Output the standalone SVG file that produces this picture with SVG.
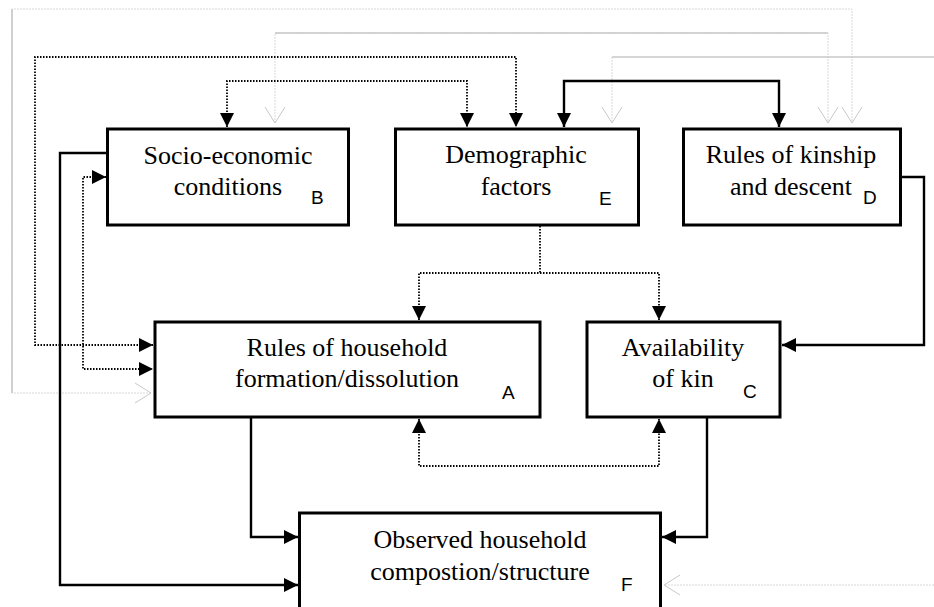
<svg xmlns="http://www.w3.org/2000/svg" width="934" height="607" viewBox="0 0 934 607">
<style>
.box{fill:#fff;stroke:#000;stroke-width:3}
.lbl{font-family:"Liberation Serif","Times New Roman",serif;font-size:26px;fill:#000;text-anchor:middle}
.tag{font-family:"Liberation Sans",Arial,sans-serif;font-size:19px;fill:#000}
.solid{fill:none;stroke:#000;stroke-width:2.4}
.dot{fill:none;stroke:#000;stroke-width:1.8;stroke-dasharray:1.5 1.5}
.gl{fill:none;stroke:#d8d8d8;stroke-width:1;stroke-dasharray:2 1}
.gs{fill:none;stroke:#c8c8c8;stroke-width:1.6}
.ba{marker-start:url(#fa);marker-end:url(#fa)}
.ea{marker-end:url(#fa)}
.gba{marker-start:url(#oa);marker-end:url(#oa)}
.gea{marker-end:url(#oa)}
</style>
<defs>
<marker id="fa" markerUnits="userSpaceOnUse" markerWidth="15" markerHeight="15" refX="14" refY="7" orient="auto-start-reverse" viewBox="0 0 15 15">
<path d="M0,0 L14,7 L0,14 z" fill="#000"/>
</marker>
<marker id="oa" markerUnits="userSpaceOnUse" markerWidth="20" markerHeight="24" refX="17" refY="11" orient="auto-start-reverse" viewBox="0 0 20 24">
<path d="M1,1 L17,11 L1,21" fill="none" stroke="#c8c8c8" stroke-width="1"/>
</marker>
</defs>
<g id="connectors">
<path class="gl gba" d="M151,393 L12,393 L12,9 L852,9 L852,123"/>
<path class="gs" d="M12,393 L12,9"/>
<path class="gl gba" d="M275,123 L275,33 L828,33 L828,123"/>
<path class="gs" d="M275,33 L828,33"/>
<path class="gl gea" d="M612,57 L612,123"/>
<path class="gs" d="M612,57 L940,57"/>
<path class="gl gea" d="M940,585 L664,585"/>
<path class="dot ba" d="M153,345 L35,345 L35,57 L516,57 L516,127"/>
<path class="dot ba" d="M227,127 L227,81 L467,81 L467,127"/>
<path class="solid ba" d="M564,127 L564,81 L779,81 L779,127"/>
<path class="dot ba" d="M106,177 L83,177 L83,369 L153,369"/>
<path class="solid ea" d="M107,153 L60,153 L60,585 L298,585"/>
<path class="dot" d="M540,226 L540,273"/>
<path class="dot ba" d="M419,320 L419,273 L659,273 L659,320"/>
<path class="solid ea" d="M901,177 L924,177 L924,345 L782,345"/>
<path class="dot ba" d="M419,419 L419,466 L659,466 L659,419"/>
<path class="solid ea" d="M251,418 L251,537 L298,537"/>
<path class="solid ea" d="M707,418 L707,537 L662,537"/>
</g>
<g id="nodeB">
<rect class="box" x="107.5" y="129" width="241" height="96"/>
<text class="lbl" x="228" y="164">Socio-economic</text>
<text class="lbl" x="228" y="195">conditions</text>
<text class="tag" x="311" y="204">B</text>
</g>
<g id="nodeE">
<rect class="box" x="395.5" y="129" width="243" height="96"/>
<text class="lbl" x="516" y="163">Demographic</text>
<text class="lbl" x="516" y="195">factors</text>
<text class="tag" x="599" y="205">E</text>
</g>
<g id="nodeD">
<rect class="box" x="683.5" y="129" width="217" height="96"/>
<text class="lbl" x="791" y="163">Rules of kinship</text>
<text class="lbl" x="791" y="195">and descent</text>
<text class="tag" x="863" y="204">D</text>
</g>
<g id="nodeA">
<rect class="box" x="155" y="322" width="385" height="95"/>
<text class="lbl" x="347" y="356">Rules of household</text>
<text class="lbl" x="347" y="387">formation/dissolution</text>
<text class="tag" x="502" y="399">A</text>
</g>
<g id="nodeC">
<rect class="box" x="587" y="322" width="193" height="95"/>
<text class="lbl" x="683" y="356">Availability</text>
<text class="lbl" x="683" y="387">of kin</text>
<text class="tag" x="743" y="398">C</text>
</g>
<g id="nodeF">
<rect class="box" x="299.5" y="513" width="361" height="100"/>
<text class="lbl" x="480" y="548">Observed household</text>
<text class="lbl" x="480" y="580">compostion/structure</text>
<text class="tag" x="621" y="591">F</text>
</g>
</svg>
